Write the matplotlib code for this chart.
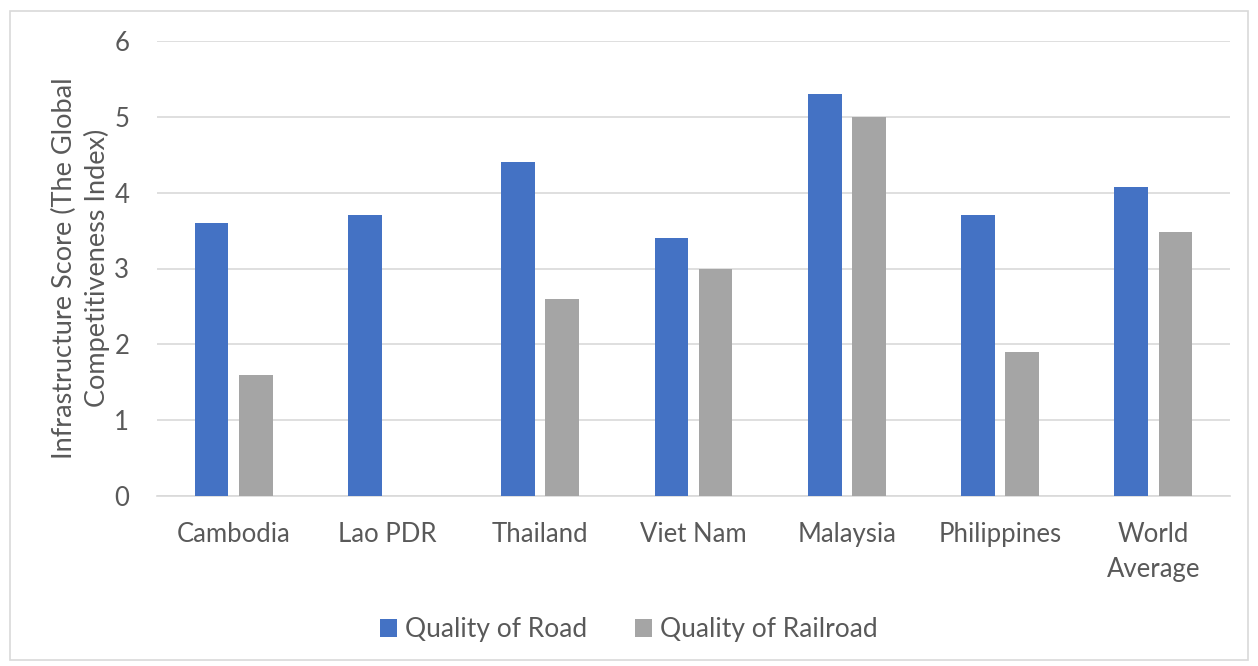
import matplotlib.pyplot as plt
from matplotlib.patches import Rectangle
import numpy as np

plt.rcParams['font.family'] = ['Lato', 'DejaVu Sans']

countries = ["Cambodia", "Lao PDR", "Thailand", "Viet Nam", "Malaysia",
             "Philippines", "World\nAverage"]
road = [3.6, 3.7, 4.4, 3.4, 5.3, 3.7, 4.07]
railroad = [1.6, 0, 2.6, 3.0, 5.0, 1.9, 3.48]

text_col = "#595959"
fig = plt.figure(figsize=(12.58, 6.66), dpi=100)
ax = fig.add_axes([157 / 1258, 1 - 496 / 666, (1230 - 157) / 1258, (496 - 41) / 666])

x = np.arange(len(countries))
w = 0.22
ax.bar(x - 0.144, road, w, color="#4472C4", label="Quality of Road", zorder=3)
ax.bar(x + 0.144, railroad, w, color="#A5A5A5", label="Quality of Railroad", zorder=3)

ax.set_xlim(-0.5, len(countries) - 0.5)
ax.set_ylim(0, 6)
ax.set_yticks(range(7))
ax.yaxis.grid(True, color="#d9d9d9", linewidth=1.2, zorder=0)
for s in ["top", "right", "left"]:
    ax.spines[s].set_visible(False)
ax.spines["bottom"].set_color("#d9d9d9")
ax.spines["bottom"].set_linewidth(1.2)
ax.tick_params(axis="both", length=0, colors=text_col, labelsize=18.5)
ax.tick_params(axis="x", pad=19)
ax.tick_params(axis="y", pad=20)
ax.set_xticks(x)
ax.set_xticklabels(countries, linespacing=1.5)

fig.text(81 / 1258, 1 - 268 / 666, "Infrastructure Score (The Global\nCompetitiveness Index)",
         rotation=90, ha="center", va="center", fontsize=19.5, color=text_col,
         linespacing=1.35)

fig.legend(loc="center", bbox_to_anchor=(0.5, 1 - 630 / 666), ncol=2, frameon=False,
           fontsize=19, labelcolor=text_col, handlelength=0.65, handleheight=0.65,
           handletextpad=0.3, columnspacing=1.8)

# outer chart border
fig.patches.append(Rectangle((10 / 1258, 6 / 666), 1238 / 1258, 649 / 666,
                             transform=fig.transFigure, fill=False,
                             edgecolor="#d9d9d9", linewidth=1.2))

fig.savefig("out.png", dpi=100)
